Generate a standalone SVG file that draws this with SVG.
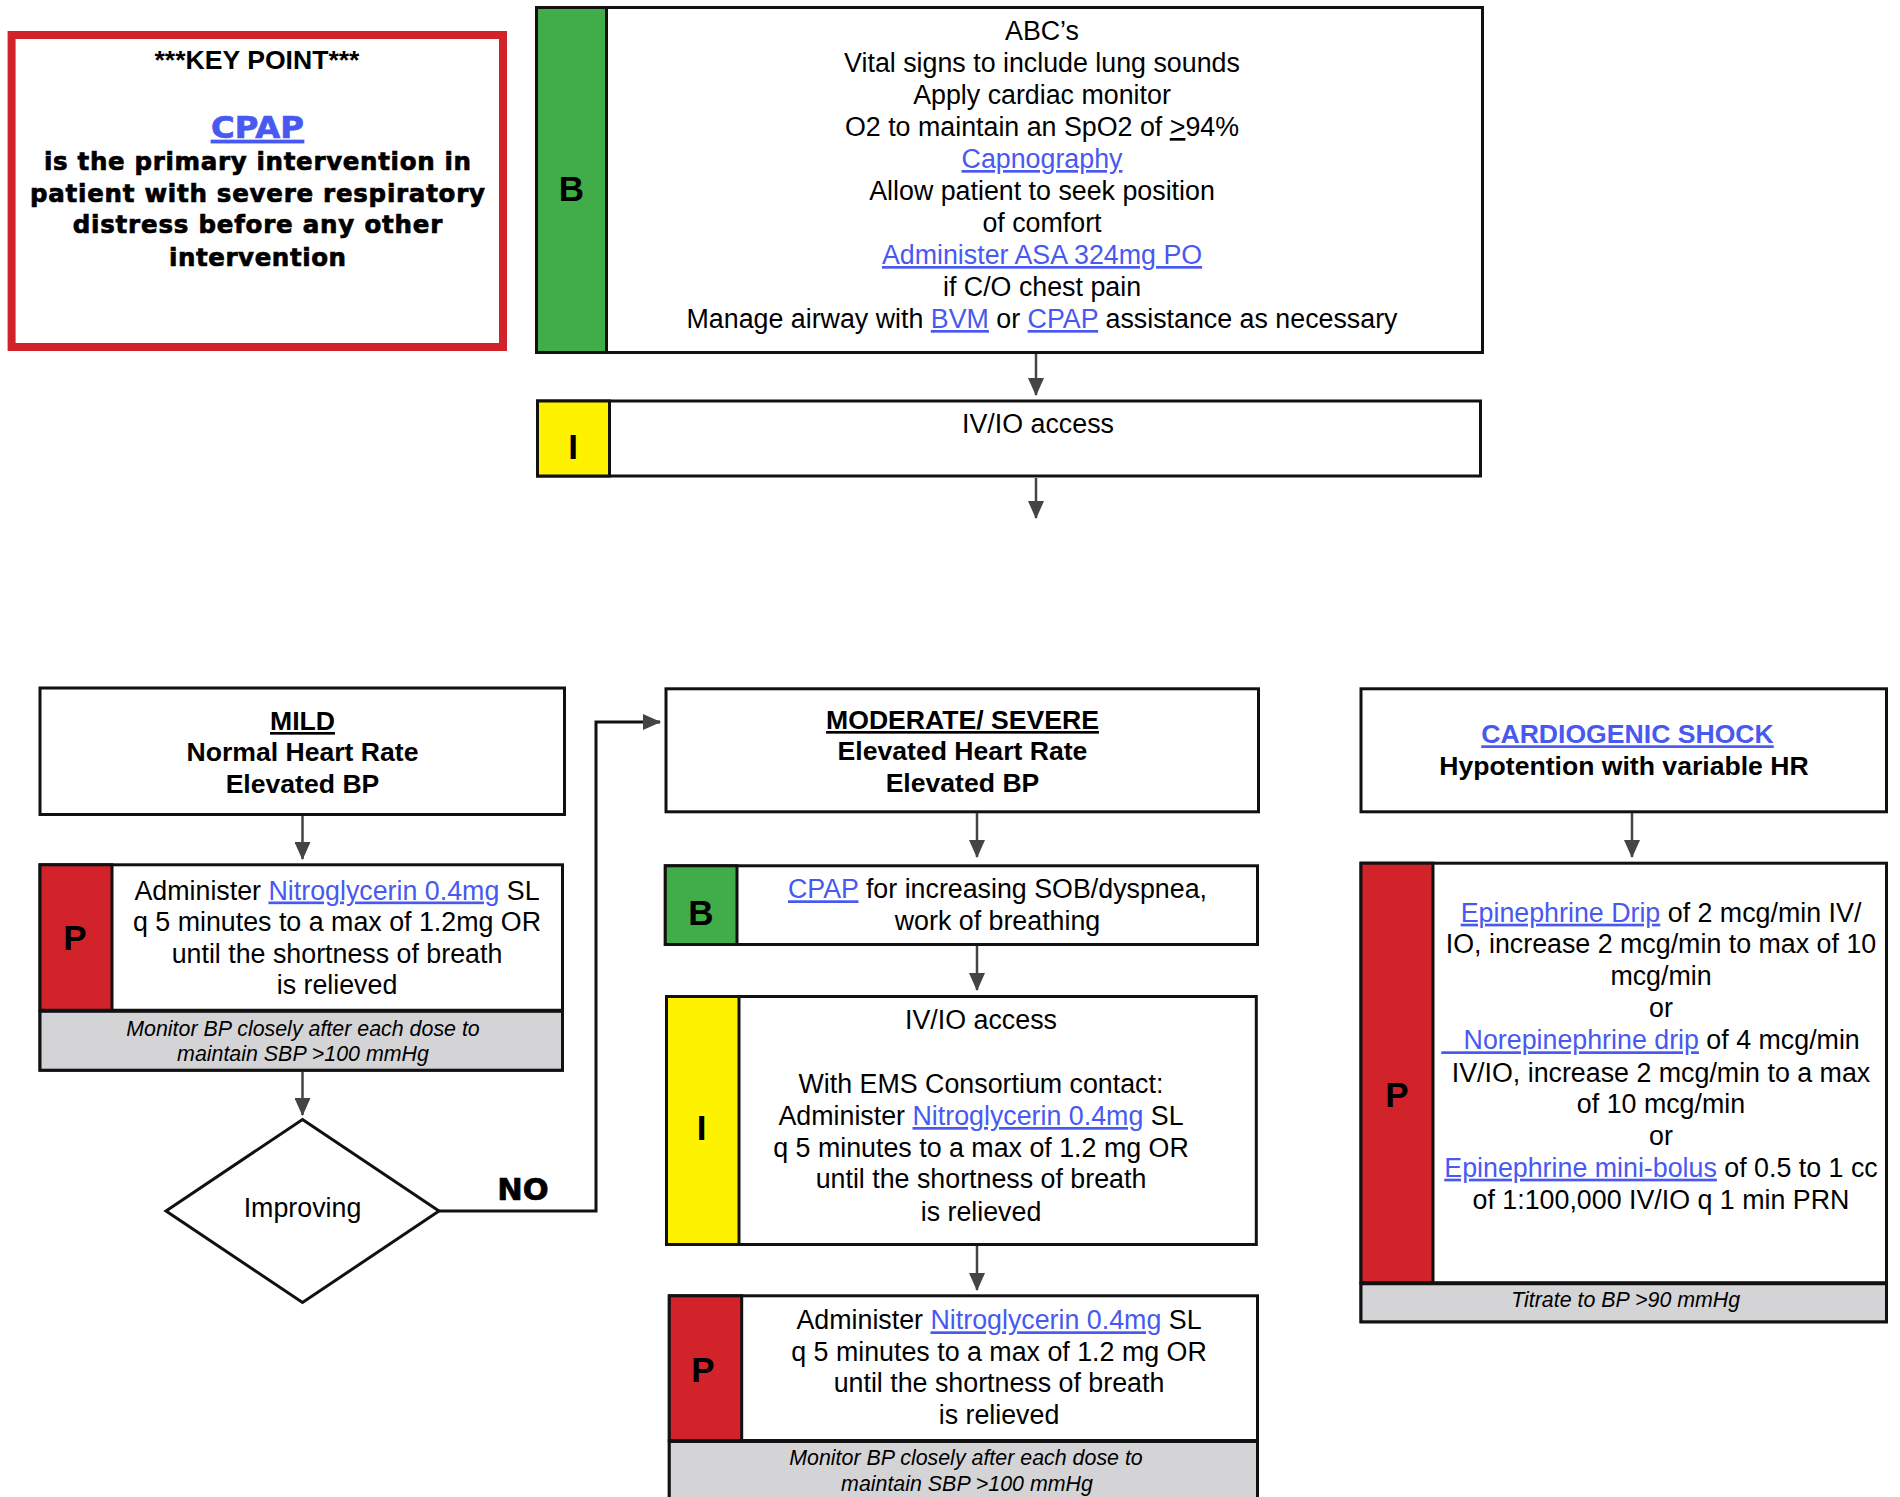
<svg xmlns="http://www.w3.org/2000/svg" width="1900" height="1497" viewBox="0 0 1900 1497">
<style>
.frame{fill:#fff;stroke:#111;stroke-width:3}
.green{fill:#41AD49;stroke:#111;stroke-width:3}
.yellow{fill:#FFF200;stroke:#111;stroke-width:3}
.red{fill:#D2232A;stroke:#111;stroke-width:3}
.gray{fill:#D4D4D6;stroke:#111;stroke-width:3}
.div{stroke:#111;stroke-width:4}
.t{font-family:"Liberation Sans",Arial,sans-serif;font-size:26.8px;fill:#000;text-anchor:middle}
.tb{font-family:"Liberation Sans",Arial,sans-serif;font-size:26.6px;font-weight:bold;fill:#000;text-anchor:middle}
.it{font-family:"Liberation Sans",Arial,sans-serif;font-size:21.4px;font-style:italic;fill:#000;text-anchor:middle}
.big{font-family:"Liberation Sans",Arial,sans-serif;font-size:35px;font-weight:bold;fill:#000;text-anchor:middle}
.heavy{font-family:"DejaVu Sans",sans-serif;font-weight:bold;fill:#000;stroke:#000;stroke-width:0.7;text-anchor:middle}
.lnk{fill:#4759F0;text-decoration:underline}
.heavy.lnk{stroke:#4759F0}
.u{text-decoration:underline}
.conn{fill:none;stroke:#444;stroke-width:2.5}
.connb{fill:none;stroke:#111;stroke-width:3}
</style>
<defs>
<marker id="arr" markerWidth="18" markerHeight="16" refX="17" refY="8" orient="auto" markerUnits="userSpaceOnUse">
<path d="M0,0 L18,8 L0,16 Z" fill="#444"/>
</marker>
</defs>

<g id="key-point">
<rect x="11.6" y="35" width="491.4" height="312" fill="#fff" stroke="#D2232A" stroke-width="8"/>
<text class="tb" x="257" y="69" font-size="26.5">***KEY POINT***</text>
<text class="heavy lnk" x="257.5" y="138" font-size="30.5" textLength="93" lengthAdjust="spacingAndGlyphs">CPAP</text>
<text class="heavy" x="257.5" y="170" font-size="24.5" textLength="427">is the primary intervention in</text>
<text class="heavy" x="257.5" y="201.7" font-size="24.5" textLength="455">patient with severe respiratory</text>
<text class="heavy" x="257.5" y="233.3" font-size="24.5" textLength="369.5">distress before any other</text>
<text class="heavy" x="257.5" y="265.7" font-size="24.5" textLength="177">intervention</text>
</g>

<g id="node-b-top">
<rect class="frame" x="536.5" y="7.5" width="946" height="345"/>
<rect class="green" x="536.5" y="7.5" width="70" height="345"/>
<text class="big" x="571.5" y="200.7" font-size="38">B</text>
<text class="t" x="1042" y="40">ABC’s</text>
<text class="t" x="1042" y="72">Vital signs to include lung sounds</text>
<text class="t" x="1042" y="104">Apply cardiac monitor</text>
<text class="t" x="1042" y="136">O2 to maintain an SpO2 of <tspan class="u">&gt;</tspan>94%</text>
<text class="t" x="1042" y="168"><tspan class="lnk">Capnography</tspan></text>
<text class="t" x="1042" y="200">Allow patient to seek position</text>
<text class="t" x="1042" y="232">of comfort</text>
<text class="t" x="1042" y="264"><tspan class="lnk">Administer ASA 324mg PO</tspan></text>
<text class="t" x="1042" y="296">if C/O chest pain</text>
<text class="t" x="1042" y="328">Manage airway with <tspan class="lnk">BVM</tspan> or <tspan class="lnk">CPAP</tspan> assistance as necessary</text>
</g>

<g id="node-i-top">
<rect class="frame" x="537.5" y="401" width="943" height="75"/>
<rect class="yellow" x="537.5" y="401" width="72" height="75"/>
<text class="big" x="573" y="459">I</text>
<text class="t" x="1038" y="433">IV/IO access</text>
</g>

<g id="node-mild">
<rect class="frame" x="40" y="688" width="524.5" height="126.5"/>
<text class="tb" x="302.5" y="730"><tspan class="u">MILD</tspan></text>
<text class="tb" x="302.5" y="761">Normal Heart Rate</text>
<text class="tb" x="302.5" y="792.5">Elevated BP</text>
</g>

<g id="node-p-mild">
<rect class="frame" x="40" y="864.8" width="522.5" height="205.4"/>
<rect class="red" x="40" y="864.8" width="72" height="145.9"/>
<rect class="gray" x="40" y="1010.7" width="522.5" height="59.5"/>
<line class="div" x1="40" y1="1010.7" x2="562.5" y2="1010.7"/>
<text class="big" x="75" y="950">P</text>
<text class="t" x="337" y="899.5">Administer <tspan class="lnk">Nitroglycerin 0.4mg</tspan> SL</text>
<text class="t" x="337" y="931">q 5 minutes to a max of 1.2mg OR</text>
<text class="t" x="337" y="962.7">until the shortness of breath</text>
<text class="t" x="337" y="994.3">is relieved</text>
<text class="it" x="303" y="1035.7">Monitor BP closely after each dose to</text>
<text class="it" x="303" y="1061">maintain SBP &gt;100 mmHg</text>
</g>

<g id="node-improving">
<polygon points="302.5,1119.5 439,1211 302.5,1302.5 166,1211" fill="#fff" stroke="#111" stroke-width="3"/>
<text class="t" x="302.5" y="1217">Improving</text>
</g>

<g id="node-moderate">
<rect class="frame" x="666" y="688.8" width="592.5" height="123"/>
<text class="tb" x="962.5" y="729"><tspan class="u">MODERATE/ SEVERE</tspan></text>
<text class="tb" x="962.5" y="760">Elevated Heart Rate</text>
<text class="tb" x="962.5" y="791.7">Elevated BP</text>
</g>

<g id="node-b-mod">
<rect class="frame" x="665.3" y="865.8" width="592.2" height="78.7"/>
<rect class="green" x="665.3" y="865.8" width="71.7" height="78.7"/>
<text class="big" x="701" y="925">B</text>
<text class="t" x="997.5" y="898.3"><tspan class="lnk">CPAP</tspan> for increasing SOB/dyspnea,</text>
<text class="t" x="997.5" y="930">work of breathing</text>
</g>

<g id="node-i-mod">
<rect class="frame" x="666.5" y="996.5" width="589.8" height="248"/>
<rect class="yellow" x="666.5" y="996.5" width="72.5" height="248"/>
<text class="big" x="701.5" y="1140">I</text>
<text class="t" x="981" y="1029.3">IV/IO access</text>
<text class="t" x="981" y="1093.3">With EMS Consortium contact:</text>
<text class="t" x="981" y="1125">Administer <tspan class="lnk">Nitroglycerin 0.4mg</tspan> SL</text>
<text class="t" x="981" y="1156.7">q 5 minutes to a max of 1.2 mg OR</text>
<text class="t" x="981" y="1188.3">until the shortness of breath</text>
<text class="t" x="981" y="1220.5">is relieved</text>
</g>

<g id="node-p-mod">
<rect class="frame" x="669.3" y="1295.8" width="588.2" height="250"/>
<rect class="red" x="669.3" y="1295.8" width="72.4" height="145.2"/>
<rect class="gray" x="669.3" y="1441" width="588.2" height="105"/>
<line class="div" x1="669.3" y1="1441" x2="1257.5" y2="1441"/>
<text class="big" x="703" y="1381.7">P</text>
<text class="t" x="999" y="1329.3">Administer <tspan class="lnk">Nitroglycerin 0.4mg</tspan> SL</text>
<text class="t" x="999" y="1360.7">q 5 minutes to a max of 1.2 mg OR</text>
<text class="t" x="999" y="1392.3">until the shortness of breath</text>
<text class="t" x="999" y="1424">is relieved</text>
<text class="it" x="966" y="1465">Monitor BP closely after each dose to</text>
<text class="it" x="967" y="1491">maintain SBP &gt;100 mmHg</text>
</g>

<g id="node-cardio">
<rect class="frame" x="1361" y="688.8" width="525.5" height="123"/>
<text class="tb" x="1627.5" y="743.3"><tspan class="lnk">CARDIOGENIC SHOCK</tspan></text>
<text class="tb" x="1624" y="775">Hypotention with variable HR</text>
</g>

<g id="node-p-cardio">
<rect class="frame" x="1361" y="863.2" width="525.5" height="458.6"/>
<rect class="red" x="1361" y="863.2" width="72" height="420.1"/>
<rect class="gray" x="1361" y="1283.3" width="525.5" height="38.5"/>
<line class="div" x1="1361" y1="1283.3" x2="1886.5" y2="1283.3"/>
<text class="big" x="1397" y="1106.7">P</text>
<text class="t" x="1661" y="921.7"><tspan class="lnk">Epinephrine Drip</tspan> of 2 mcg/min IV/</text>
<text class="t" x="1661" y="953.3">IO, increase 2 mcg/min to max of 10</text>
<text class="t" x="1661" y="985">mcg/min</text>
<text class="t" x="1661" y="1016.7">or</text>
<text class="t" x="1650.5" y="1049.3" xml:space="preserve"><tspan class="lnk">   Norepinephrine drip</tspan> of 4 mcg/min</text>
<text class="t" x="1661" y="1081.7">IV/IO, increase 2 mcg/min to a max</text>
<text class="t" x="1661" y="1113.3">of 10 mcg/min</text>
<text class="t" x="1661" y="1145">or</text>
<text class="t" x="1661" y="1176.7"><tspan class="lnk">Epinephrine mini-bolus</tspan> of 0.5 to 1 cc</text>
<text class="t" x="1661" y="1209.3">of 1:100,000 IV/IO q 1 min PRN</text>
<text class="it" x="1625.7" y="1306.7">Titrate to BP &gt;90 mmHg</text>
</g>

<g id="connectors">
<line class="conn" x1="1036" y1="354" x2="1036" y2="395" marker-end="url(#arr)"/>
<line class="conn" x1="1036" y1="478" x2="1036" y2="518" marker-end="url(#arr)"/>
<line class="conn" x1="302.5" y1="816" x2="302.5" y2="859" marker-end="url(#arr)"/>
<line class="conn" x1="302.5" y1="1072" x2="302.5" y2="1115" marker-end="url(#arr)"/>
<polyline class="connb" points="439,1211 596,1211 596,722 660,722" marker-end="url(#arr)"/>
<text class="heavy" x="523" y="1200" font-size="30.5">NO</text>
<line class="conn" x1="977" y1="813" x2="977" y2="857" marker-end="url(#arr)"/>
<line class="conn" x1="977" y1="946" x2="977" y2="990" marker-end="url(#arr)"/>
<line class="conn" x1="977" y1="1246" x2="977" y2="1290" marker-end="url(#arr)"/>
<line class="conn" x1="1632" y1="813" x2="1632" y2="857" marker-end="url(#arr)"/>
</g>
</svg>
